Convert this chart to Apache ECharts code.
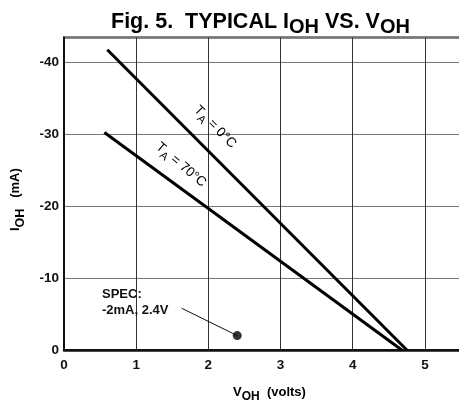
<!DOCTYPE html>
<html>
<head>
<meta charset="utf-8">
<script src="https://cdn.jsdelivr.net/npm/echarts@6/dist/echarts.min.js"></script>
<style>
  html, body { margin: 0; padding: 0; background: #fff; }
  #chart { width: 459px; height: 408px; }
</style>
</head>
<body>
<div id="chart"></div>
<script>
// Output current vs output voltage, two ambient temperatures
const vOhTa0 = [0.6, 4.75];     // volts
const iOhTa0 = [-41.7, 0];      // mA
const vOhTa70 = [0.56, 4.68];   // volts
const iOhTa70 = [-30.2, 0];     // mA

// Data-sheet specification point and its callout leader
const specPoint = [2.4, -2];    // [V, mA]
const specLeaderStart = [1.63, -5.8];

const xTicks = [0, 1, 2, 3, 4, 5];
const yTicks = [0, -10, -20, -30, -40];

const FONT = '"Liberation Sans", Arial, Helvetica, sans-serif';
const zip = (xs, ys) => xs.map((x, i) => [x, ys[i]]);

const chart = echarts.init(document.getElementById('chart'), null, { renderer: 'canvas' });

const subRich = (main, sub, pad) => ({
  m: { fontFamily: FONT, fontWeight: 'bold', fontSize: main, color: '#111', verticalAlign: 'top' },
  s: { fontFamily: FONT, fontWeight: 'bold', fontSize: sub, color: '#111', verticalAlign: 'top', padding: [pad, 0, 0, 0] }
});

const curveRich = {
  t: { fontFamily: FONT, fontSize: 13.5, color: '#111', verticalAlign: 'top' },
  a: { fontFamily: FONT, fontSize: 11, color: '#111', verticalAlign: 'top', padding: [6, 0, 0, 0] }
};

chart.setOption({
  animation: false,
  backgroundColor: '#fff',
  grid: {
    left: 64, top: 37.5, right: -2, bottom: 58,
    containLabel: false, outerBoundsMode: 'none',
    show: true, borderColor: '#111', borderWidth: 2
  },
  xAxis: {
    type: 'value', min: 0, max: 5.5, interval: 1,
    axisLine: { show: true, onZero: false, lineStyle: { color: '#111', width: 2.5 } },
    axisTick: { show: false },
    axisLabel: {
      margin: 8, color: '#111', fontFamily: FONT, fontWeight: 'bold', fontSize: 13.5,
      formatter: v => (xTicks.indexOf(v) >= 0 ? String(v) : '')
    },
    splitLine: { show: true, lineStyle: { color: '#333', width: 1 } }
  },
  yAxis: {
    type: 'value', min: -43.4, max: 0, inverse: true,
    axisLine: { show: true, onZero: false, lineStyle: { color: '#111', width: 2 } },
    axisTick: { show: false },
    axisLabel: {
      margin: 5, color: '#111', fontFamily: FONT, fontWeight: 'bold', fontSize: 13.5,
      formatter: v => (yTicks.indexOf(v) >= 0 ? String(v) : '')
    },
    splitLine: { show: true, lineStyle: { color: '#777', width: 1 } }
  },
  series: [
    {
      name: 'TA = 0°C', type: 'line', data: zip(vOhTa0, iOhTa0),
      symbol: 'none', lineStyle: { color: '#000', width: 3 }, z: 5
    },
    {
      name: 'TA = 70°C', type: 'line', data: zip(vOhTa70, iOhTa70),
      symbol: 'none', lineStyle: { color: '#000', width: 3 }, z: 5
    },
    {
      name: 'spec leader', type: 'line', data: [specLeaderStart, specPoint],
      symbol: 'none', lineStyle: { color: '#111', width: 1 }, z: 4
    },
    {
      name: 'SPEC', type: 'scatter', data: [specPoint],
      symbol: 'circle', symbolSize: 9, itemStyle: { color: '#000' }, z: 6
    }
  ],
  graphic: [
    {
      type: 'text', x: 111, y: 11, z: 10,
      style: {
        text: '{m|Fig. 5.  TYPICAL I}{s|OH}{m| VS. V}{s|OH}',
        rich: subRich(21.5, 20, 6)
      }
    },
    {
      type: 'text', x: 233, y: 386, z: 10,
      style: {
        text: '{m|V}{s|OH}{m|  (volts)}',
        rich: subRich(13, 12, 5)
      }
    },
    {
      type: 'text', x: 9, y: 231, rotation: Math.PI / 2, z: 10,
      style: {
        text: '{m|I}{s|OH}{m|   (mA)}',
        rich: subRich(13, 12.5, 5)
      }
    },
    {
      type: 'text', x: 102, y: 286, z: 10,
      style: {
        text: 'SPEC:\n-2mA, 2.4V',
        fontFamily: FONT, fontWeight: 'bold', fontSize: 13, lineHeight: 16.5, fill: '#111'
      }
    },
    {
      type: 'text', x: 214, y: 128, rotation: -Math.PI / 4, z: 10,
      style: {
        text: '{t|T}{a|A}{t| = 0°C}',
        align: 'center', verticalAlign: 'middle',
        rich: curveRich
      }
    },
    {
      type: 'text', x: 180, y: 166, rotation: -0.70, z: 10,
      style: {
        text: '{t|T}{a|A}{t| = 70°C}',
        align: 'center', verticalAlign: 'middle',
        rich: curveRich
      }
    }
  ]
});
</script>
</body>
</html>
